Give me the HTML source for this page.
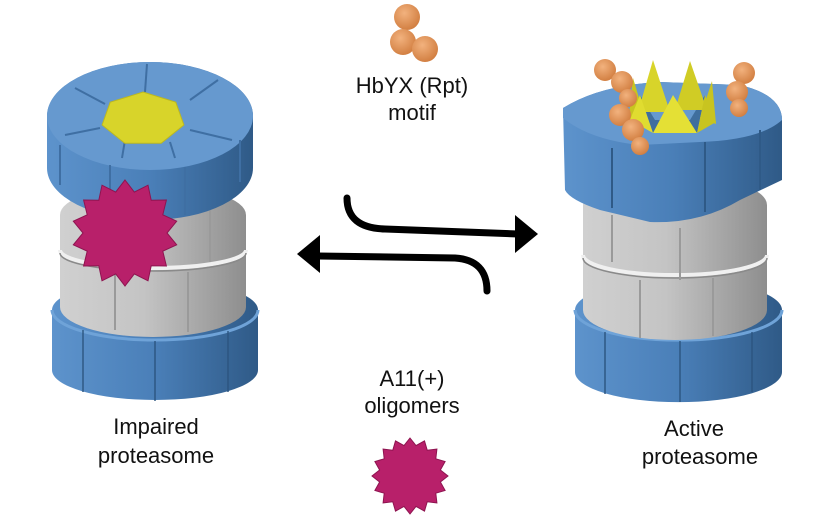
<!DOCTYPE html>
<html><head><meta charset="utf-8"><style>
html,body{margin:0;padding:0;background:#fff}
svg{display:block}
text{font-family:"Liberation Sans",Arial,sans-serif;font-size:22px;fill:#111}
</style></head><body>
<svg id="s" width="834" height="516" viewBox="0 0 834 516" xmlns="http://www.w3.org/2000/svg">
<defs>
<linearGradient id="bs" x1="0" x2="1" y1="0" y2="0">
<stop offset="0" stop-color="#5d93cc"/><stop offset="0.5" stop-color="#4a7fb8"/><stop offset="1" stop-color="#2f5a87"/></linearGradient>
<linearGradient id="gs" x1="0" x2="1" y1="0" y2="0">
<stop offset="0" stop-color="#d0d0d0"/><stop offset="0.45" stop-color="#c4c4c4"/><stop offset="1" stop-color="#8e8e8e"/></linearGradient>
<radialGradient id="ball" cx="0.4" cy="0.35" r="0.7">
<stop offset="0" stop-color="#f2b27e"/><stop offset="1" stop-color="#d07c3e"/></radialGradient>
</defs>

<g>
<path d="M52 310 A103 30 0 0 1 258 310 L258 370 A103 30 0 0 1 52 370 Z" fill="url(#bs)"/>
<path d="M52 310 A103 30 0 0 0 258 310" fill="none" stroke="#6fa3d8" stroke-width="3"/>
<g stroke="#2c5580" stroke-width="2" fill="none" opacity=".7">
<path d="M83 330 L83 392"/><path d="M155 341 L155 401"/><path d="M228 331 L228 392"/></g>
<path d="M60 215 A93 30 0 0 1 246 215 L246 307 A93 30 0 0 1 60 307 Z" fill="url(#gs)"/>
<path d="M60 250 A93 18 0 0 0 246 250" fill="none" stroke="#f0f0f0" stroke-width="4"/>
<path d="M60 253 A93 18 0 0 0 246 253" fill="none" stroke="#8a8a8a" stroke-width="1.5"/>
<g stroke="#9a9a9a" stroke-width="2"><path d="M115 272 L115 330"/><path d="M188 272 L188 332"/><path d="M100 205 L100 255"/><path d="M210 210 L210 262"/></g>
<path d="M47 116 A103 54 0 0 1 253 116 L253 168 A103 52 0 0 1 47 168 Z" fill="url(#bs)"/>
<ellipse cx="150" cy="116" rx="103" ry="54" fill="#6699cf"/>
<g stroke="#3f6fa3" stroke-width="2" fill="none">
<path d="M110 165 L110 213"/><path d="M185 167 L185 215"/><path d="M60 145 L60 185"/><path d="M240 140 L240 182"/>
<path d="M147 64 L145 92"/><path d="M75 88 L105 104"/><path d="M218 80 L190 100"/><path d="M232 140 L190 130"/><path d="M65 135 L100 128"/><path d="M122 158 L125 140"/><path d="M175 158 L170 142"/></g>
<polygon id="hept" fill="#d8d42a" stroke="#bcb820" stroke-width="1"/>
<polygon id="star1" fill="#b8206a" stroke="#8e1450" stroke-width="1"/>
</g>

<g>
<path d="M575 310 A103 30 0 0 1 782 310 L782 372 A103 30 0 0 1 575 372 Z" fill="url(#bs)"/>
<path d="M575 310 A103 30 0 0 0 782 310" fill="none" stroke="#6fa3d8" stroke-width="3"/>
<g stroke="#2c5580" stroke-width="2" opacity=".7"><path d="M605 332 L605 394"/><path d="M680 341 L680 402"/><path d="M752 332 L752 392"/></g>
<path d="M583 205 A92 30 0 0 1 767 205 L767 310 A92 30 0 0 1 583 310 Z" fill="url(#gs)"/>
<path d="M583 255 A92 20 0 0 0 767 255" fill="none" stroke="#f0f0f0" stroke-width="4"/>
<path d="M583 258 A92 20 0 0 0 767 258" fill="none" stroke="#8a8a8a" stroke-width="1.5"/>
<g stroke="#9a9a9a" stroke-width="2"><path d="M640 280 L640 338"/><path d="M713 278 L713 336"/><path d="M612 215 L612 262"/><path d="M680 228 L680 280"/><path d="M745 212 L745 258"/></g>
<path d="M563 108 Q600 85 660 82 L740 85 Q782 95 782 120 L782 180 L740 200 Q700 224 650 222 L600 210 Q570 200 565 190 Z" fill="url(#bs)"/>
<path d="M563 108 Q600 85 660 82 L740 85 Q782 95 782 120 Q760 140 700 142 L640 145 Q590 140 563 118 Z" fill="#6699cf"/>
<g stroke="#2f5a87" stroke-width="2"><path d="M612 148 L612 208"/><path d="M705 142 L705 212"/><path d="M760 130 L760 190"/></g>
<polygon points="640,95 655,120 690,120 705,95 697,133 653,133" fill="#3f6e9e"/>
<polygon points="653,60 638,112 670,112" fill="#d8d42a"/>
<polygon points="690,61 675,110 707,110" fill="#d0cc25"/>
<polygon points="633,78 628,125 645,118" fill="#c8c420"/>
<polygon points="712,81 716,124 700,118" fill="#c8c420"/>
<polygon points="640,95 630,120 653,133" fill="#e0dc30"/>
<polygon points="705,95 716,122 697,133" fill="#c8c420"/>
<polygon points="673,95 653,133 697,133" fill="#e4e035"/>
<g fill="url(#ball)">
<circle cx="605" cy="70" r="11"/><circle cx="622" cy="82" r="11"/><circle cx="628" cy="98" r="9"/>
<circle cx="620" cy="115" r="11"/><circle cx="633" cy="130" r="11"/><circle cx="640" cy="146" r="9"/>
<circle cx="744" cy="73" r="11"/><circle cx="737" cy="92" r="11"/><circle cx="739" cy="108" r="9"/>
</g>
</g>

<g fill="url(#ball)"><circle cx="407" cy="17" r="13"/><circle cx="403" cy="42" r="13"/><circle cx="425" cy="49" r="13"/></g>
<text x="412" y="93" text-anchor="middle">HbYX (Rpt)</text>
<text x="412" y="120" text-anchor="middle">motif</text>
<text x="412" y="386" text-anchor="middle">A11(+)</text>
<text x="412" y="413" text-anchor="middle">oligomers</text>
<line x1="410" y1="444" x2="410" y2="450" stroke="#111" stroke-width="2"/>
<polygon id="star2" fill="#b8206a" stroke="#8e1450" stroke-width="1"/>

<path d="M347 198 Q347 228 385 229 L518 234" fill="none" stroke="#000" stroke-width="7" stroke-linecap="round"/>
<polygon points="538,234 515,215 515,253" fill="#000"/>
<path d="M318 256 L455 258 Q487 260 487 291" fill="none" stroke="#000" stroke-width="7" stroke-linecap="round"/>
<polygon points="297,254 320,235 320,273" fill="#000"/>

<text x="156" y="434" text-anchor="middle">Impaired</text>
<text x="156" y="463" text-anchor="middle">proteasome</text>
<text x="694" y="436" text-anchor="middle">Active</text>
<text x="700" y="464" text-anchor="middle">proteasome</text>
</svg>
<script>
function star(id,cx,cy,R,r,n){var p=[];for(var i=0;i<2*n;i++){var a=Math.PI*i/n-Math.PI/2,rr=i%2?r:R;p.push((cx+rr*Math.cos(a)).toFixed(1)+","+(cy+rr*Math.sin(a)).toFixed(1));}document.getElementById(id).setAttribute("points",p.join(" "));}
star("star1",125,233,53,42,14);
star("star2",410,476,38,31,16);
var p=[];for(var i=0;i<7;i++){var a=2*Math.PI*i/7-Math.PI/2;p.push((143+42*Math.cos(a)).toFixed(1)+","+(119+27*Math.sin(a)).toFixed(1));}
document.getElementById("hept").setAttribute("points",p.join(" "));
</script>
</body></html>
